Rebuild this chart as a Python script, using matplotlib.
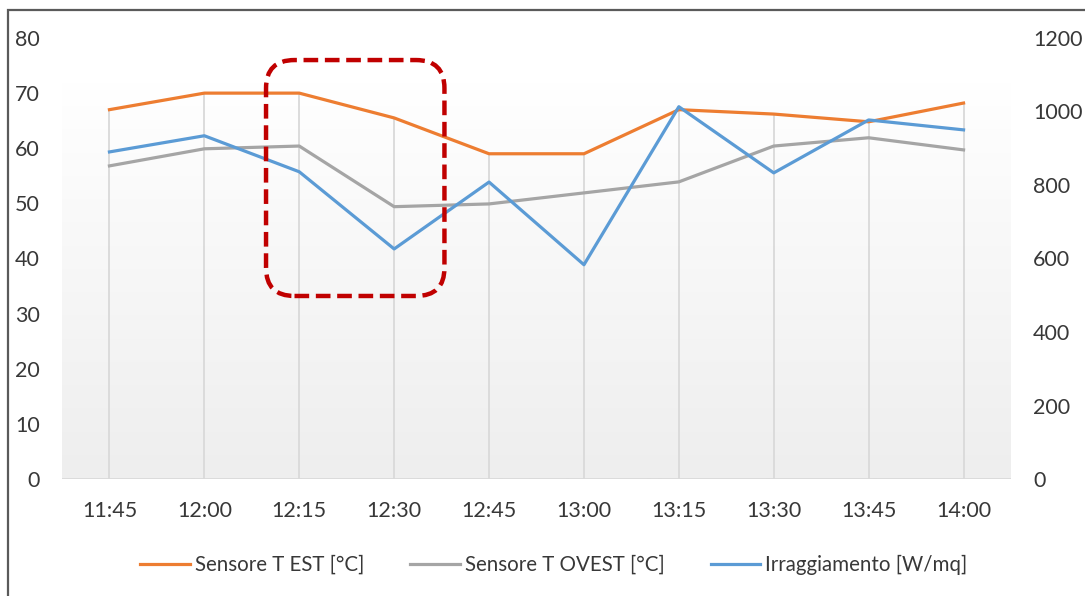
import numpy as np
import matplotlib
matplotlib.use('Agg')
import matplotlib.pyplot as plt
from matplotlib.patches import FancyBboxPatch, Rectangle

plt.rcParams['font.family'] = ['Lato', 'DejaVu Sans']

orari = ['11:45', '12:00', '12:15', '12:30', '12:45', '13:00', '13:15', '13:30', '13:45', '14:00']
t_est = [67.0, 70.0, 70.0, 65.5, 59.0, 59.0, 67.0, 66.2, 64.8, 68.2]
t_ovest = [56.8, 59.9, 60.4, 49.4, 49.9, 51.9, 53.9, 60.4, 61.9, 59.7]
irragg = [890, 934, 836, 626, 808, 583, 1013, 833, 977, 950]

y_left_max = 80
y_right_max = 1200

c_est = '#ED7D31'
c_ovest = '#A5A5A5'
c_irr = '#5B9BD5'
txt = '#383838'

fig = plt.figure(figsize=(10.85, 5.96), dpi=100)
ax = fig.add_axes([62 / 1085, 1 - 479 / 596, 949 / 1085, 441 / 596])
ax2 = ax.twinx()

x = np.arange(len(orari))
ax.set_xlim(-0.5, len(orari) - 0.5)
ax.set_ylim(0, y_left_max)
ax2.set_ylim(0, y_right_max)

# sfondo sfumato: bianco in alto, grigio chiaro in basso
grad = np.linspace(0, 1, 256).reshape(-1, 1)
cmap = matplotlib.colors.LinearSegmentedColormap.from_list('g', ['#ffffff', '#eeeeee'])
ax.imshow(grad, extent=[-0.5, len(orari) - 0.5, 0, 72], aspect='auto',
          cmap=cmap, origin='upper', zorder=0)

# linee di proiezione dal punto piu' alto all'asse
scale = y_left_max / y_right_max
top = np.maximum.reduce([np.array(t_est), np.array(t_ovest), np.array(irragg) * scale])
ax.vlines(x, 0, top, color='#d9d9d9', lw=1.3, zorder=1)
ax.axhline(0, color='#d9d9d9', lw=1.3, zorder=1)

l1, = ax.plot(x, t_est, color=c_est, lw=2.3, zorder=3, label='Sensore T EST [°C]')
l2, = ax.plot(x, t_ovest, color=c_ovest, lw=2.3, zorder=3, label='Sensore T OVEST [°C]')
l3, = ax2.plot(x, irragg, color=c_irr, lw=2.3, zorder=3, label='Irraggiamento [W/mq]')

for a in (ax, ax2):
    for s in a.spines.values():
        s.set_visible(False)
    a.tick_params(length=0, labelsize=15.5, colors=txt)

ax.set_xticks(x)
ax.set_xticklabels(orari)
ax.tick_params(axis='x', pad=16)
ax.set_yticks(np.arange(0, y_left_max + 1, 10))
ax.tick_params(axis='y', pad=16)
ax2.set_yticks(np.arange(0, y_right_max + 1, 200))
ax2.tick_params(axis='y', pad=16)
ax.patch.set_visible(False)

# riquadro tratteggiato sull'intervallo 12:15 - 12:30
box = FancyBboxPatch((1.65, 33.2), 1.88, 42.8,
                     boxstyle='round,pad=0,rounding_size=0.3',
                     mutation_aspect=17.0, transform=ax.transData,
                     fill=False, edgecolor='#C00000', lw=3.2,
                     linestyle=(0, (3.3, 1.5)), zorder=10, clip_on=False)
ax2.add_patch(box)

fig.legend(handles=[l1, l2, l3], loc='center', bbox_to_anchor=(554 / 1085, 1 - 565 / 596),
           ncol=3, frameon=False, fontsize=14.8, handlelength=2.4, handletextpad=0.25,
           columnspacing=2.25, labelcolor=txt)

# cornice della figura
fig.patches.append(Rectangle((8 / 1085, -0.05), 1.1, 1 - 10 / 596 + 0.05,
                             transform=fig.transFigure, fill=False,
                             edgecolor='#5a5a5a', lw=1.6))

fig.savefig('out.png', dpi=100)
